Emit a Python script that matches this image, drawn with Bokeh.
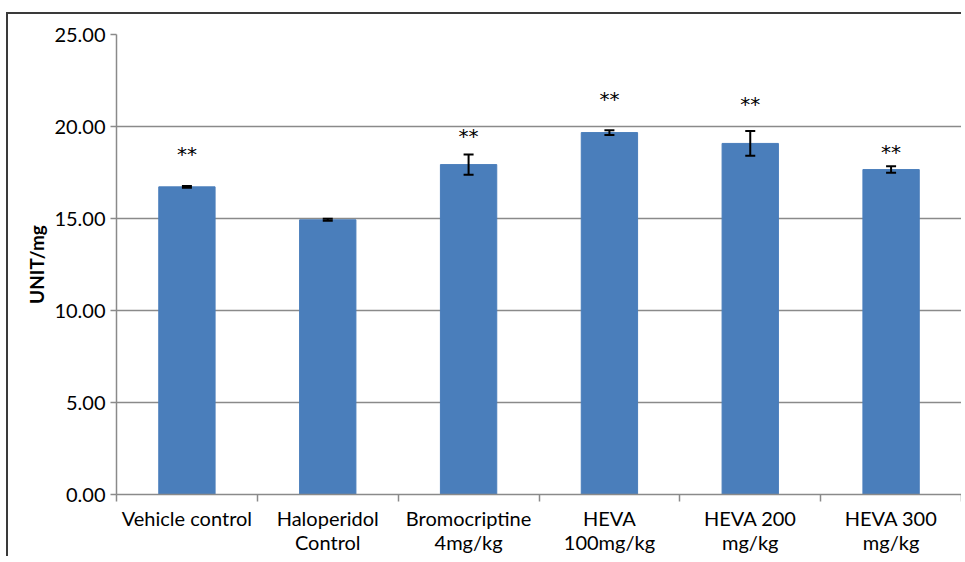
from bokeh.plotting import figure
from bokeh.models import (ColumnDataSource, Whisker, TeeHead, FixedTicker, Range1d,
                          PrintfTickFormatter)
from bokeh.core.properties import value
from bokeh.embed import file_html
from bokeh.resources import INLINE

categories = ["Vehicle control", "Haloperidol\nControl", "Bromocriptine\n4mg/kg",
              "HEVA\n100mg/kg", "HEVA 200\nmg/kg", "HEVA 300\nmg/kg"]
values = [16.72, 14.93, 17.93, 19.67, 19.08, 17.66]
errors = [0.05, 0.05, 0.55, 0.13, 0.67, 0.18]
stars = ["**", "", "**", "**", "**", "**"]
star_y = [18.5, 0.0, 19.5, 21.47, 21.2, 18.64]
y_ticks = [0, 5, 10, 15, 20, 25]

FONT = "Lato"
GRAY = "#8a8a8a"

xs = [i + 0.5 for i in range(len(categories))]
src = ColumnDataSource(dict(
    x=xs, top=values,
    lower=[v - e for v, e in zip(values, errors)],
    upper=[v + e for v, e in zip(values, errors)],
))
sx = [x for x, s in zip(xs, stars) if s]
sy = [y for y, s in zip(star_y, stars) if s]
st = [s for s in stars if s]
star_src = ColumnDataSource(dict(x=sx, y=sy, t=st))

p = figure(height=556, frame_width=845,
           x_range=Range1d(0, len(categories)), y_range=Range1d(0, 25),
           output_backend="svg", toolbar_location=None,
           min_border_left=116, min_border_top=34, min_border_right=0, min_border_bottom=0)
p.border_fill_color = None
p.styles = {"background": "linear-gradient(#3a3a3a, #3a3a3a) 6px 12px / 100% 2px no-repeat, "
                          "linear-gradient(#3a3a3a, #3a3a3a) 6px 12px / 2px 100% no-repeat, white"}
p.outline_line_color = None

p.vbar(x="x", top="top", width=0.4, bottom=0, source=src, color="#4a7ebb")
p.add_layout(Whisker(source=src, base="x", lower="lower", upper="upper", level="overlay",
                     line_color="black", line_width=2,
                     lower_head=TeeHead(size=10, line_width=2, line_color="black"),
                     upper_head=TeeHead(size=10, line_width=2, line_color="black")))
p.text(x="x", y="y", text="t", source=star_src, text_font=value("DejaVu Sans"),
       text_font_size="20px", text_align="center", text_baseline="middle", text_color="black")

# y axis
p.yaxis.ticker = FixedTicker(ticks=y_ticks)
p.yaxis.formatter = PrintfTickFormatter(format="%.2f")
p.yaxis.major_tick_out = 6
p.yaxis.major_tick_in = 0
p.yaxis.minor_tick_line_color = None
p.yaxis.axis_line_color = GRAY
p.yaxis.axis_line_width = 1.5
p.yaxis.major_tick_line_color = GRAY
p.yaxis.major_tick_line_width = 1.5
p.yaxis.major_label_text_font = FONT
p.yaxis.major_label_text_font_size = "20px"
p.yaxis.major_label_text_color = "black"
p.yaxis.major_label_standoff = 5
p.yaxis.axis_label = "UNIT/mg"
p.yaxis.axis_label_text_font = FONT
p.yaxis.axis_label_text_font_size = "19px"
p.yaxis.axis_label_text_font_style = "bold"
p.yaxis.axis_label_text_color = "black"
p.yaxis.axis_label_standoff = 3

# x axis
p.xaxis.ticker = FixedTicker(ticks=xs, minor_ticks=list(range(len(categories) + 1)))
p.xaxis.major_label_overrides = {x: c for x, c in zip(xs, categories)}
p.xaxis.major_tick_line_color = None
p.xaxis.major_tick_out = 0
p.xaxis.major_tick_in = 0
p.xaxis.minor_tick_out = 7
p.xaxis.minor_tick_in = 0
p.xaxis.minor_tick_line_color = GRAY
p.xaxis.minor_tick_line_width = 1.5
p.xaxis.axis_line_color = GRAY
p.xaxis.axis_line_width = 1.5
p.xaxis.major_label_text_font = FONT
p.xaxis.major_label_text_font_size = "20px"
p.xaxis.major_label_text_line_height = 1.0
p.xaxis.major_label_text_color = "black"
p.xaxis.major_label_standoff = 4

p.xgrid.grid_line_color = None
p.ygrid.ticker = FixedTicker(ticks=y_ticks)
p.ygrid.grid_line_color = GRAY
p.ygrid.grid_line_width = 1.5

open("out.html", "w").write(file_html(p, INLINE))
